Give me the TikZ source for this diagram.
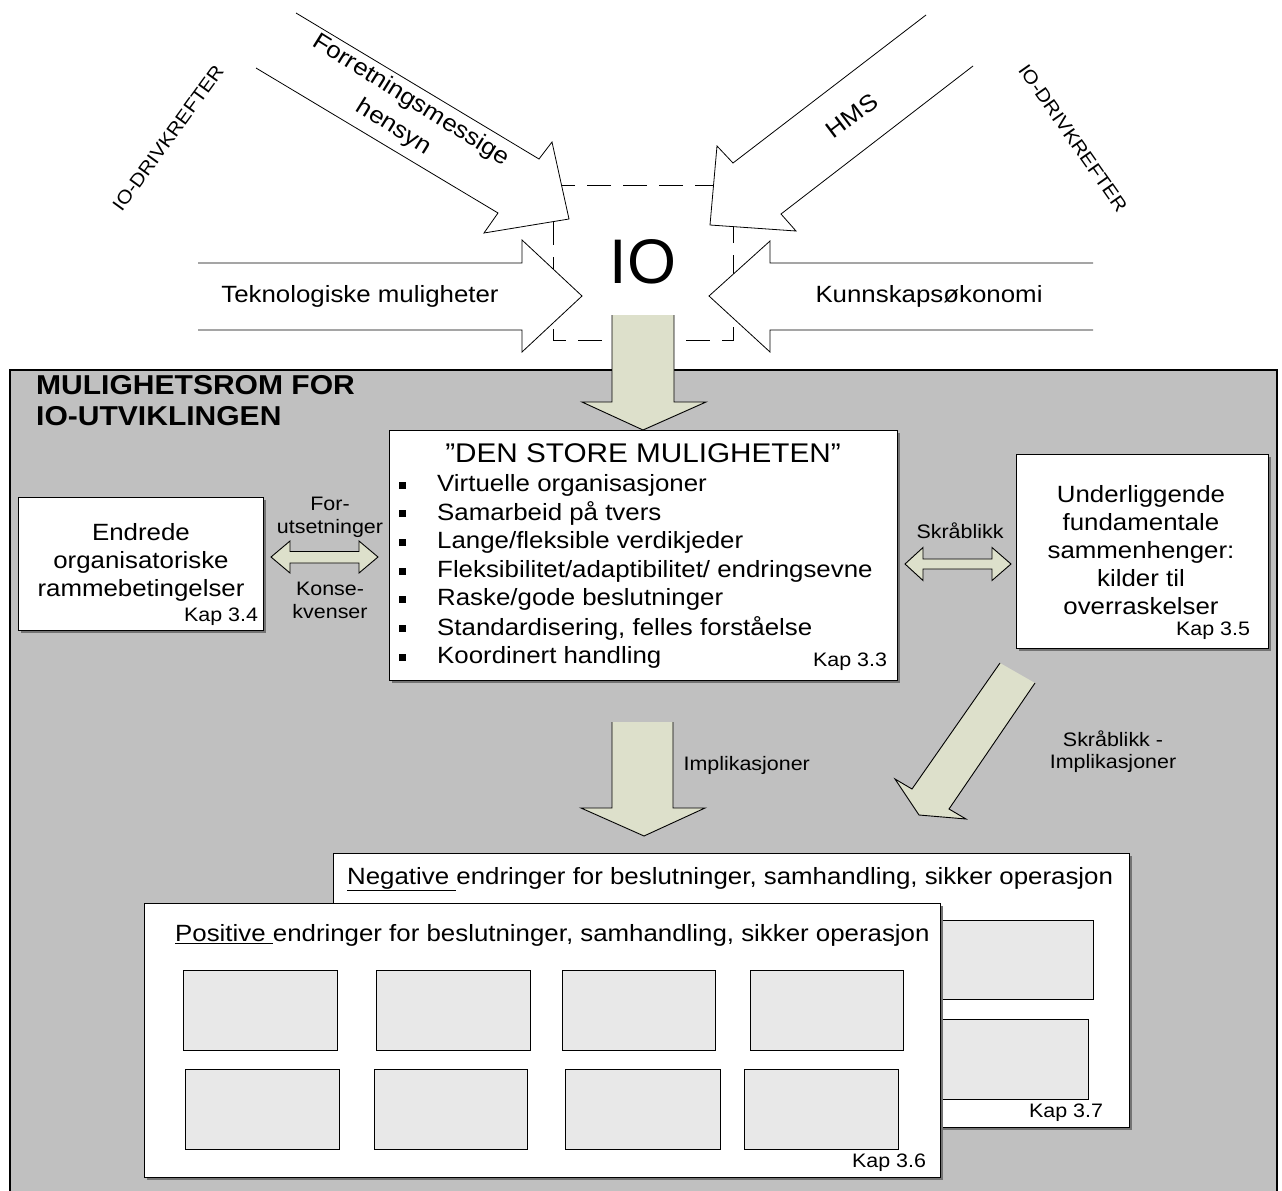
\documentclass[tikz,border=0pt]{standalone}
\usepackage{fontspec}
\setmainfont{Liberation Sans}[FakeStretch=1.1]
\newfontfamily\plainfont{Liberation Sans}
\usetikzlibrary{calc,shadows}
\definecolor{roomgray}{RGB}{192,192,192}
\definecolor{arrowfill}{RGB}{221,224,203}
\definecolor{cellgray}{RGB}{232,232,232}
\newcommand{\fsz}[2]{\fontsize{#1}{#2}\selectfont}
\begin{document}
\begin{tikzpicture}[x=1pt,y=-1pt,
  whitearrow/.style={draw=black,fill=white,line width=0.8pt,line join=miter},
  greenarrow/.style={fill=arrowfill},
  greenedge/.style={draw=black,line width=0.9pt},
  box/.style={draw=black,fill=white,line width=1.3pt,inner sep=0pt,anchor=north west,
    drop shadow={shadow xshift=2pt,shadow yshift=-2pt,fill=black!55,opacity=1}},
  cell/.style={draw=black,fill=cellgray,line width=1.1pt,inner sep=0pt,anchor=north west,
    minimum width=154,minimum height=80},
  maintext/.style={font=\fsz{23.5}{28}},
  smalltext/.style={font=\fsz{19.5}{22}},
  kap/.style={font=\fsz{19.5}{22}},
  drive/.style={font=\fsz{18.8}{22}}
]
\useasboundingbox (0,0) rectangle (1282,1191);

% ---------- IO and its driving forces ----------
\draw[dash pattern=on 24pt off 12pt,line width=1pt] (553,185) rectangle (733,340);
\coordinate (iobox) at (643,262);

\draw[whitearrow] (296,13) -- (539,159) -- (552,142) -- (569,219) -- (484,233) -- (498,213) -- (256,68);
\draw[whitearrow] (926,15) -- (733,163) -- (717,146) -- (710,225) -- (796,231) -- (781,214) -- (973,66);
\draw[whitearrow] (198,263) -- (522,263) -- (522,240) -- (582,296) -- (522,352) -- (522,330) -- (198,330);
\draw[whitearrow] (1093,263) -- (770,263) -- (770,241) -- (709,296) -- (770,352) -- (770,330) -- (1093,330);

\node[font=\plainfont\fsz{63}{70}] (io) at (iobox) {IO};
\node[rotate=-32,align=center,font=\fsz{23.5}{32}] (business) at (402,114) {Forretningsmessige\\hensyn};
\node[maintext,rotate=37] (hms) at (852,116) {HMS};
\node[maintext] (tech) at (360,296) {Teknologiske muligheter};
\node[maintext] (knowledge) at (929,296) {Kunnskapsøkonomi};
\node[drive,rotate=54] (driveL) at (168,138) {IO-DRIVKREFTER};
\node[drive,rotate=-55] (driveR) at (1073,138) {IO-DRIVKREFTER};

% ---------- room of possibilities ----------
\fill[roomgray] (10,370) rectangle (1277,1191);
\draw[line width=1.5pt] (10,1191) -- (10,370) -- (1277,370) -- (1277,1191);
\node[anchor=north west,font=\bfseries\fsz{27.3}{31},align=left,inner sep=0pt] (title) at (36,375)
  {MULIGHETSROM FOR\\IO-UTVIKLINGEN};

% arrow from IO down to the big opportunity
\fill[greenarrow] (612,315) -- (612,402) -- (582,402) -- (643,430) -- (706,402) -- (674,402) -- (674,315) -- cycle;
\draw[greenedge] (612,315) -- (612,402) -- (582,402) -- (643,430) -- (706,402) -- (674,402) -- (674,315);

% boxes
\node[box,minimum width=245,minimum height=133] (frame) at (18,497) {};
\node[box,minimum width=508,minimum height=250] (big) at (389,430) {};
\node[box,minimum width=252,minimum height=194] (under) at (1016,454) {};

\node[maintext,align=center] (frametxt) at (141,562) {Endrede\\organisatoriske\\rammebetingelser};
\node[kap] (kap34) at (221,617) {Kap 3.4};

\node[font=\fsz{27}{30}] (bigtitle) at (643,453) {”DEN STORE MULIGHETEN”};
\foreach \t [count=\i] in {Virtuelle organisasjoner,Samarbeid på tvers,Lange/fleksible verdikjeder,
  Fleksibilitet/adaptibilitet/ endringsevne,Raske/gode beslutninger,
  Standardisering\rlap{,} \ felles forståelse,Koordinert handling}{
  \pgfmathsetmacro{\yy}{485+(\i-1)*28.7}
  \fill (398.5,\yy-3.5) rectangle +(7,7);
  \node[maintext,anchor=west,inner sep=0pt] (item\i) at (437,\yy) {\t};
}
\node[kap] (kap33) at (850,662) {Kap 3.3};

\node[maintext,align=center] (undertxt) at (1141,550)
  {Underliggende\\fundamentale\\sammenhenger:\\kilder til\\overraskelser};
\node[kap] (kap35) at (1213,631) {Kap 3.5};

% double arrows between the boxes
\draw[greenedge,fill=arrowfill] (271,557) -- (290,541) -- (290,551.5) -- (359,551.5) -- (359,541) -- (378,557)
  -- (359,573) -- (359,563) -- (290,563) -- (290,573) -- cycle;
\node[smalltext] (pre1) at (330,504) {For-};
\node[smalltext] (pre2) at (330,528) {utsetninger};
\node[smalltext] (con1) at (330,589) {Konse-};
\node[smalltext] (con2) at (330,612) {kvenser};

\draw[greenedge,fill=arrowfill] (905,564) -- (923,547.5) -- (923,559) -- (992,559) -- (992,547.5) -- (1011,564)
  -- (992,580.5) -- (992,569) -- (923,569) -- (923,580.5) -- cycle;
\node[smalltext] (oblique) at (960,531) {Skråblikk};

% implications
\fill[greenarrow] (612,722) -- (612,808) -- (581,808) -- (644,836) -- (705,808) -- (673,808) -- (673,722) -- cycle;
\draw[greenedge] (612,722) -- (612,808) -- (581,808) -- (644,836) -- (705,808) -- (673,808) -- (673,722);
\node[smalltext,anchor=west] (impl) at (680,765) {Implikasjoner};

\fill[greenarrow] (1000,663) -- (912,789) -- (895,779) -- (919,815) -- (966,819) -- (949,809) -- (1035,683) -- cycle;
\draw[greenedge] (1000,663) -- (912,789) -- (895,779) -- (919,815) -- (966,819) -- (949,809) -- (1035,683);
\node[smalltext,align=center,font=\fsz{19.5}{22}] (obliqueimpl) at (1113,752) {Skråblikk -\\Implikasjoner};

% negative and positive changes
\node[box,minimum width=796,minimum height=274] (neg) at (333,853) {};
\node[cell,minimum width=200,minimum height=79] (negA) at (893,920) {};
\node[cell,minimum width=195,minimum height=80] (negB) at (893,1019) {};
\node[maintext,anchor=west,inner sep=0pt] (negtxt) at (347,879)
  {\underline{Negative }endringer for beslutninger, samhandling, sikker operasjon};
\node[kap] (kap37) at (1066,1113) {Kap 3.7};

\node[box,minimum width=796,minimum height=274] (pos) at (144,903) {};
\node[maintext,anchor=west,inner sep=0pt] (postxt) at (175,935)
  {\underline{Positive }endringer for beslutninger, samhandling, sikker operasjon};
\node[cell] (p1) at (183,970) {};
\node[cell] (p2) at (376,970) {};
\node[cell,minimum width=153] (p3) at (562,970) {};
\node[cell,minimum width=153] (p4) at (750,970) {};
\node[cell] (p5) at (185,1069) {};
\node[cell,minimum width=153] (p6) at (374,1069) {};
\node[cell,minimum width=155] (p7) at (565,1069) {};
\node[cell] (p8) at (744,1069) {};
\node[kap] (kap36) at (889,1163) {Kap 3.6};
\end{tikzpicture}
\end{document}
